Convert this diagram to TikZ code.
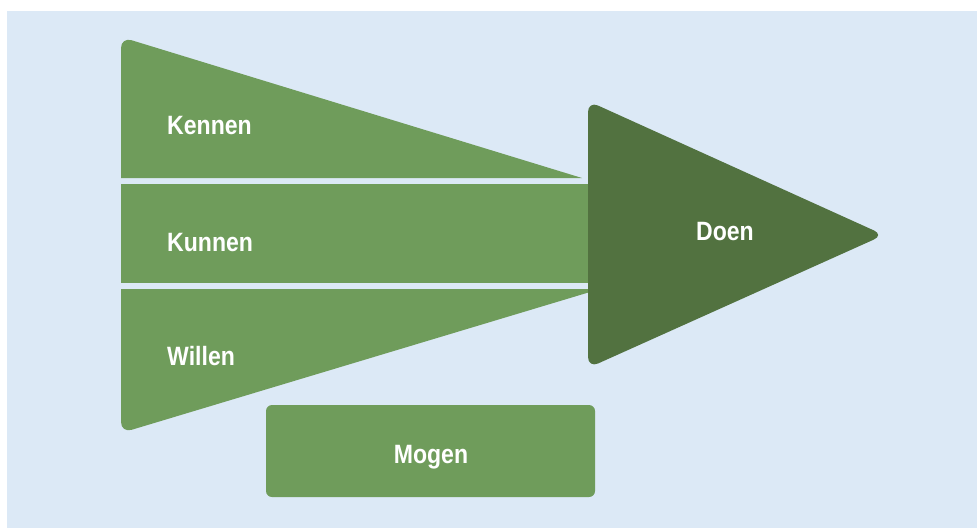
\documentclass[tikz,border=0pt]{standalone}
\usepackage{fontspec}
\setmainfont{Liberation Sans}[FakeStretch=0.87]
\definecolor{bgblue}{RGB}{220,233,246}
\definecolor{lgreen}{RGB}{111,156,91}
\definecolor{dgreen}{RGB}{82,114,64}
\tikzset{
  lbl/.style={text=white,font=\bfseries\fontsize{26.5}{28}\selectfont,inner sep=0pt},
}
\begin{document}
\begin{tikzpicture}[x=1pt,y=-1pt]
  \useasboundingbox (0,0) rectangle (977,528);
  \fill[bgblue] (7,11) rectangle (977,528);
  % three bands
  \fill[lgreen] (582,178) [rounded corners=11pt] -- (121,37) [sharp corners] -- (121,178) -- cycle;
  \fill[lgreen] (121,184) rectangle (600,283);
  \fill[lgreen] (600,289) -- (121,289) [rounded corners=11pt] -- (121,433) [sharp corners] -- (600,289) -- cycle;
  % arrow head
  \fill[dgreen,rounded corners=11pt] (588,236) -- (588,101) -- (884,235) -- (588,368) -- cycle;
  % extra box
  \fill[lgreen,rounded corners=6pt] (266,405) rectangle (595,497);
  \node[lbl,anchor=base west] (kennen) at (167,134) {Kennen};
  \node[lbl,anchor=base west] (kunnen) at (167,251) {Kunnen};
  \node[lbl,anchor=base west] (willen) at (167,365) {Willen};
  \node[lbl,anchor=base] (doen) at (725,240) {Doen};
  \node[lbl,anchor=base] (mogen) at (431,463) {Mogen};
\end{tikzpicture}
\end{document}
